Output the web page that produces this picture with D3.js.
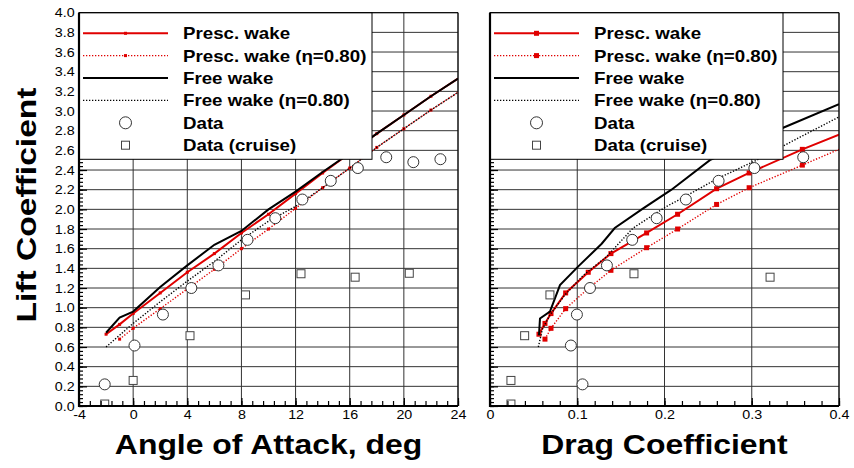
<!DOCTYPE html>
<html>
<head>
<meta charset="utf-8">
<script src="https://cdn.jsdelivr.net/npm/d3@7"></script>
<style>
  body { margin: 0; background: #fff; }
  text { font-family: "Liberation Sans", Arial, sans-serif; }
</style>
</head>
<body>
<svg id="chart" width="854" height="468"></svg>
<script>
// ---- tick values ----
var clTicks = [0, 0.2, 0.4, 0.6, 0.8, 1.0, 1.2, 1.4, 1.6, 1.8, 2.0, 2.2, 2.4, 2.6, 2.8, 3.0, 3.2, 3.4, 3.6, 3.8, 4.0];
var alphaTicks = [-4, 0, 4, 8, 12, 16, 20, 24];
var cdTicks = [0, 0.1, 0.2, 0.3, 0.4];

// ---- left panel: lift vs angle of attack ----
var alphaPresc = [-2, -1, 0, 2, 4, 6, 8, 10, 12, 14, 16, 18, 20, 22, 24];
var clPresc = [0.73, 0.83, 0.94, 1.15, 1.36, 1.55, 1.76, 1.95, 2.16, 2.37, 2.57, 2.77, 2.96, 3.15, 3.33];
var alphaPrescEta = [-1, 0, 2, 4, 6, 8, 10, 12, 14, 16, 18, 20, 22, 24];
var clPrescEta = [0.68, 0.79, 0.99, 1.19, 1.39, 1.60, 1.80, 2.01, 2.22, 2.42, 2.63, 2.82, 3.01, 3.19];
var alphaFree = [-2, -1, 0, 2, 4, 6, 8, 10, 12, 14, 16, 18, 20, 22, 24];
var clFree = [0.745, 0.90, 0.96, 1.21, 1.43, 1.64, 1.78, 2.0, 2.18, 2.38, 2.57, 2.77, 2.96, 3.15, 3.33];
var alphaFreeEta = [-2, 0, 2, 4, 6, 8, 10, 12, 14, 16, 18, 20, 22, 24];
var clFreeEta = [0.60, 0.84, 1.06, 1.27, 1.47, 1.69, 1.88, 2.03, 2.22, 2.42, 2.63, 2.82, 3.01, 3.19];
var alphaData = [-2.1, 0.1, 2.2, 4.3, 6.3, 8.45, 10.5, 12.5, 14.6, 16.6, 18.7, 20.7, 22.7];
var clData = [0.22, 0.615, 0.93, 1.20, 1.43, 1.69, 1.91, 2.10, 2.29, 2.42, 2.53, 2.48, 2.51];
var alphaCruise = [-2.1, 0, 4.2, 8.3, 12.4, 16.4, 20.4];
var clCruise = [0.02, 0.26, 0.715, 1.13, 1.345, 1.31, 1.35];

// ---- right panel: lift vs drag ----
var cdPresc = [0.0561, 0.063, 0.0699, 0.0867, 0.1126, 0.1386, 0.1795, 0.215, 0.2597, 0.297, 0.358, 0.4];
var clPrescR = [0.73, 0.84, 0.94, 1.15, 1.36, 1.55, 1.76, 1.95, 2.21, 2.37, 2.61, 2.76];
var cdPrescEta = [0.063, 0.0699, 0.0867, 0.112, 0.1386, 0.1795, 0.215, 0.2597, 0.297, 0.358, 0.4];
var clPrescEtaR = [0.68, 0.79, 0.99, 1.19, 1.38, 1.61, 1.80, 2.05, 2.22, 2.45, 2.61];
var cdFree = [0.0561, 0.0573, 0.0687, 0.0802, 0.1012, 0.128, 0.143, 0.1756, 0.208, 0.252, 0.336, 0.4];
var clFreeR = [0.72, 0.89, 0.96, 1.23, 1.42, 1.65, 1.81, 2.01, 2.20, 2.50, 2.83, 3.07];
var cdFreeEta = [0.0554, 0.060, 0.0687, 0.085, 0.107, 0.1337, 0.164, 0.2024, 0.2195, 0.26, 0.3055, 0.35, 0.4];
var clFreeEtaR = [0.60, 0.78, 0.925, 1.12, 1.33, 1.52, 1.81, 2.03, 2.11, 2.31, 2.50, 2.71, 2.94];
var cdData = [0.106, 0.0927, 0.0996, 0.1146, 0.134, 0.163, 0.191, 0.2245, 0.262, 0.303, 0.359];
var clDataR = [0.22, 0.615, 0.93, 1.20, 1.43, 1.69, 1.91, 2.10, 2.29, 2.42, 2.53];
var cdCruise = [0.024, 0.024, 0.0397, 0.0687, 0.165, 0.321];
var clCruiseR = [0.02, 0.26, 0.715, 1.13, 1.345, 1.31];

var legendNames = ["Presc. wake", "Presc. wake (\u03b7=0.80)", "Free wake", "Free wake (\u03b7=0.80)", "Data", "Data (cruise)"];

var RED = "#e00000";
var STRETCH = 1.14;   // the original font renders wider than Arial
var plotTop = 12.7, plotBottom = 406;

var svg = d3.select("#chart");
var y = d3.scaleLinear().domain([0, 4]).range([plotBottom, plotTop]);

function drawPanel(p) {
  var x = d3.scaleLinear().domain(p.xDomain).range([p.left, p.right]);
  var g = svg.append("g");

  // grid
  g.append("g").selectAll("line").data(clTicks).join("line")
    .attr("x1", p.left).attr("x2", p.right)
    .attr("y1", d => y(d)).attr("y2", d => y(d))
    .attr("stroke", "#333").attr("stroke-width", 1);
  g.append("g").selectAll("line").data(p.xTicks).join("line")
    .attr("x1", d => x(d)).attr("x2", d => x(d))
    .attr("y1", plotTop).attr("y2", plotBottom)
    .attr("stroke", "#333").attr("stroke-width", 1);

  // curves, clipped to plot area
  svg.append("clipPath").attr("id", "clip-" + p.name)
    .append("rect").attr("x", p.left).attr("y", plotTop)
    .attr("width", p.right - p.left).attr("height", plotBottom - plotTop);
  var cg = g.append("g").attr("clip-path", "url(#clip-" + p.name + ")");
  var line = d3.line().x(d => x(d[0])).y(d => y(d[1]));

  p.series.forEach(function(s) {
    var pts = d3.zip(s.x, s.y);
    cg.append("path").datum(pts)
      .attr("d", line)
      .attr("fill", "none")
      .attr("stroke", s.color)
      .attr("stroke-width", s.dash ? 1.4 : 2)
      .attr("stroke-dasharray", s.dash ? "1.3,1.7" : null);
    if (s.marker) {
      cg.append("g").selectAll("rect")
        .data(pts.filter(d => d[0] < p.xDomain[1]))
        .join("rect")
          .attr("x", d => x(d[0]) - p.mk / 2)
          .attr("y", d => y(d[1]) - p.mk / 2)
          .attr("width", p.mk).attr("height", p.mk)
          .attr("fill", RED);
    }
  });

  // measured data
  cg.append("g").selectAll("circle")
    .data(d3.zip(p.dataX, p.dataY))
    .join("circle")
      .attr("cx", d => x(d[0])).attr("cy", d => y(d[1]))
      .attr("r", 5.5)
      .attr("fill", "#fff").attr("stroke", "#333").attr("stroke-width", 1);
  cg.append("g").selectAll("rect")
    .data(d3.zip(p.cruiseX, p.cruiseY))
    .join("rect")
      .attr("x", d => x(d[0]) - 4).attr("y", d => y(d[1]) - 4)
      .attr("width", 8).attr("height", 8)
      .attr("fill", "#fff").attr("stroke", "#444").attr("stroke-width", 1);

  // axes (ticks point inward)
  var bottomAxis = d3.axisBottom(x).tickValues(p.xTicks).tickFormat(p.xFormat)
    .tickSizeInner(-8).tickSizeOuter(0).tickPadding(4);
  var bottomMinor = d3.axisBottom(x).tickValues(d3.range(p.xDomain[0], p.xDomain[1] + 1e-9, p.minorStep))
    .tickFormat("").tickSizeInner(-5).tickSizeOuter(0);
  var leftAxis = d3.axisLeft(y).tickValues(clTicks)
    .tickFormat(p.yLabels ? d3.format(".1f") : "")
    .tickSizeInner(-8).tickSizeOuter(0).tickPadding(4);
  var leftMinor = d3.axisLeft(y).tickValues(d3.range(0, 4.0001, 0.04))
    .tickFormat("").tickSizeInner(-4).tickSizeOuter(0);

  [[bottomAxis, "b"], [bottomMinor, "b"], [leftAxis, "l"], [leftMinor, "l"]].forEach(function(a) {
    var ag = g.append("g")
      .attr("transform", a[1] === "b" ? `translate(0,${plotBottom})` : `translate(${p.left},0)`)
      .call(a[0]);
    ag.select(".domain").remove();
    ag.selectAll("line").attr("stroke", "#000").attr("stroke-width", 1.2);
    ag.selectAll("text")
      .attr("font-size", 13).attr("fill", "#000")
      .attr("font-family", "Liberation Sans, Arial, sans-serif")
      .attr("transform", "scale(1.1,1)");
  });

  // legend box
  var lg = g.append("g");
  lg.append("rect")
    .attr("x", p.left).attr("y", plotTop)
    .attr("width", p.legendW).attr("height", 146.6)
    .attr("fill", "#fff").attr("stroke", "#000").attr("stroke-width", 1);
  var rows = [33.3, 55.6, 78, 100.4, 122.8, 145.2];
  var lx0 = p.left + 4, lx1 = p.left + 89, lxm = (lx0 + lx1) / 2;
  p.series.forEach(function(s, i) {
    lg.append("line")
      .attr("x1", lx0).attr("x2", lx1).attr("y1", rows[i]).attr("y2", rows[i])
      .attr("stroke", s.color)
      .attr("stroke-width", s.dash ? 1.4 : 2)
      .attr("stroke-dasharray", s.dash ? "1.3,1.7" : null);
    if (s.marker) {
      lg.append("rect")
        .attr("x", lxm - p.mk / 2).attr("y", rows[i] - p.mk / 2)
        .attr("width", p.mk).attr("height", p.mk).attr("fill", RED);
    }
  });
  lg.append("circle").attr("cx", lxm).attr("cy", rows[4]).attr("r", 6)
    .attr("fill", "#fff").attr("stroke", "#333");
  lg.append("rect").attr("x", lxm - 4).attr("y", rows[5] - 4).attr("width", 8).attr("height", 8)
    .attr("fill", "#fff").attr("stroke", "#444");
  lg.selectAll("text.leg").data(legendNames).join("text")
    .attr("class", "leg")
    .attr("transform", (d, i) => `translate(${p.left + 104},${rows[i] + 6}) scale(${STRETCH},1)`)
    .attr("font-size", 16.4).attr("font-weight", "bold")
    .text(d => d);

  // frame: heavy left/bottom axis lines, thin top/right
  g.append("line").attr("x1", p.left).attr("x2", p.right).attr("y1", plotTop).attr("y2", plotTop)
    .attr("stroke", "#000").attr("stroke-width", 1);
  g.append("line").attr("x1", p.right).attr("x2", p.right).attr("y1", plotTop).attr("y2", plotBottom)
    .attr("stroke", "#000").attr("stroke-width", 1);
  g.append("line").attr("x1", p.left).attr("x2", p.right).attr("y1", plotBottom).attr("y2", plotBottom)
    .attr("stroke", "#000").attr("stroke-width", 2.2);
  g.append("line").attr("x1", p.left).attr("x2", p.left).attr("y1", plotTop).attr("y2", plotBottom + 1)
    .attr("stroke", "#000").attr("stroke-width", 2.2);

  // x axis title
  g.append("text")
    .attr("transform", `translate(${(p.left + p.right) / 2},454) scale(${STRETCH},1)`)
    .attr("text-anchor", "middle")
    .attr("font-size", 28).attr("font-weight", "bold")
    .text(p.title);
}

function seriesFor(xs) {
  return [
    { x: xs[0], y: xs[1], color: RED, dash: false, marker: true },
    { x: xs[2], y: xs[3], color: RED, dash: true, marker: true },
    { x: xs[4], y: xs[5], color: "#000", dash: false, marker: false },
    { x: xs[6], y: xs[7], color: "#000", dash: true, marker: false }
  ];
}

drawPanel({
  name: "alpha", left: 79, right: 458, xDomain: [-4, 24], xTicks: alphaTicks,
  xFormat: d => String(d), minorStep: 0.8, yLabels: true, mk: 3, legendW: 293,
  title: "Angle of Attack, deg",
  series: seriesFor([alphaPresc, clPresc, alphaPrescEta, clPrescEta, alphaFree, clFree, alphaFreeEta, clFreeEta]),
  dataX: alphaData, dataY: clData, cruiseX: alphaCruise, cruiseY: clCruise
});

drawPanel({
  name: "cd", left: 490, right: 839, xDomain: [0, 0.4], xTicks: cdTicks,
  xFormat: d => d === 0 ? "0" : d3.format(".1f")(d), minorStep: 0.02, yLabels: false, mk: 5, legendW: 293,
  title: "Drag Coefficient",
  series: seriesFor([cdPresc, clPrescR, cdPrescEta, clPrescEtaR, cdFree, clFreeR, cdFreeEta, clFreeEtaR]),
  dataX: cdData, dataY: clDataR, cruiseX: cdCruise, cruiseY: clCruiseR
});

// y axis title
svg.append("text")
  .attr("transform", `translate(36,205) rotate(-90) scale(1.2,1)`)
  .attr("text-anchor", "middle")
  .attr("font-size", 28).attr("font-weight", "bold")
  .text("Lift Coefficient");
</script>
</body>
</html>
